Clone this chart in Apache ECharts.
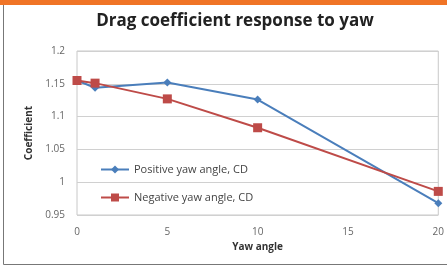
<!DOCTYPE html>
<html>
<head>
<meta charset="utf-8">
<script src="https://cdn.jsdelivr.net/npm/echarts@6/dist/echarts.min.js"></script>
<style>
  html, body { margin: 0; padding: 0; background: #fff; }
  #chart { width: 447px; height: 268px; }
</style>
</head>
<body>
<div id="chart"></div>
<script>
// yaw angle (deg)
const yawAngles = [0, 1, 5, 10, 20];
// drag coefficient
const positiveCD = [1.155, 1.144, 1.152, 1.126, 0.968];
const negativeCD = [1.155, 1.151, 1.127, 1.083, 0.986];
const seriesNames = ['Positive yaw angle, CD', 'Negative yaw angle, CD'];

const chart = echarts.init(document.getElementById('chart'));

const font = '"Open Sans", "Liberation Sans", sans-serif';

const option = {
    animation: false,
    color: ['#4a7ebb', '#be4b48'],
    title: {
        text: 'Drag coefficient response to yaw',
        left: 230,
        textAlign: 'center',
        top: 8,
        textStyle: { fontFamily: font, fontSize: 17, fontWeight: 'bold', color: '#222' }
    },
    graphic: [
        // orange band at the top
        { type: 'rect', shape: { x: 0, y: 0, width: 447, height: 5 }, style: { fill: '#f07426' } },
        // panel frame
        { type: 'line', shape: { x1: 3.5, y1: 5, x2: 3.5, y2: 264.5 }, style: { stroke: '#777', lineWidth: 1 } },
        { type: 'line', shape: { x1: 3.5, y1: 264.5, x2: 447, y2: 264.5 }, style: { stroke: '#777', lineWidth: 1 } }
    ],
    legend: {
        orient: 'vertical',
        left: 95,
        top: 159,
        itemGap: 17,
        itemWidth: 28,
        itemHeight: 10,
        textStyle: { fontFamily: font, fontSize: 11, color: '#444' },
        data: seriesNames
    },
    grid: {
        left: 77,
        right: 6,
        top: 51,
        bottom: 53,
        show: true,
        borderColor: '#c8c8c8',
        borderWidth: 1
    },
    xAxis: {
        type: 'value',
        min: 0,
        max: 20,
        interval: 5,
        name: 'Yaw angle',
        nameLocation: 'middle',
        nameGap: 22,
        nameTextStyle: { fontFamily: font, fontSize: 10, fontWeight: 'bold', color: '#333' },
        axisLine: { show: false },
        axisTick: { show: false },
        splitLine: { show: false },
        axisLabel: { fontFamily: font, fontSize: 10, color: '#666', margin: 12 }
    },
    yAxis: {
        type: 'value',
        min: 0.95,
        max: 1.2,
        interval: 0.05,
        name: 'Coefficient',
        nameLocation: 'middle',
        nameGap: 38,
        nameTextStyle: { fontFamily: font, fontSize: 10, fontWeight: 'bold', color: '#333' },
        axisLine: { show: false },
        axisTick: { show: false },
        splitLine: { show: true, lineStyle: { color: '#d0d0d0', width: 1 } },
        axisLabel: {
            fontFamily: font, fontSize: 10, color: '#666', margin: 12,
            formatter: v => String(parseFloat(v.toFixed(2)))
        }
    },
    series: [
        {
            name: seriesNames[0],
            type: 'line',
            data: yawAngles.map((x, i) => [x, positiveCD[i]]),
            symbol: 'diamond',
            symbolSize: 8,
            lineStyle: { width: 2 }
        },
        {
            name: seriesNames[1],
            type: 'line',
            data: yawAngles.map((x, i) => [x, negativeCD[i]]),
            symbol: 'rect',
            symbolSize: 9,
            lineStyle: { width: 2 }
        }
    ]
};

chart.setOption(option);
</script>
</body>
</html>
